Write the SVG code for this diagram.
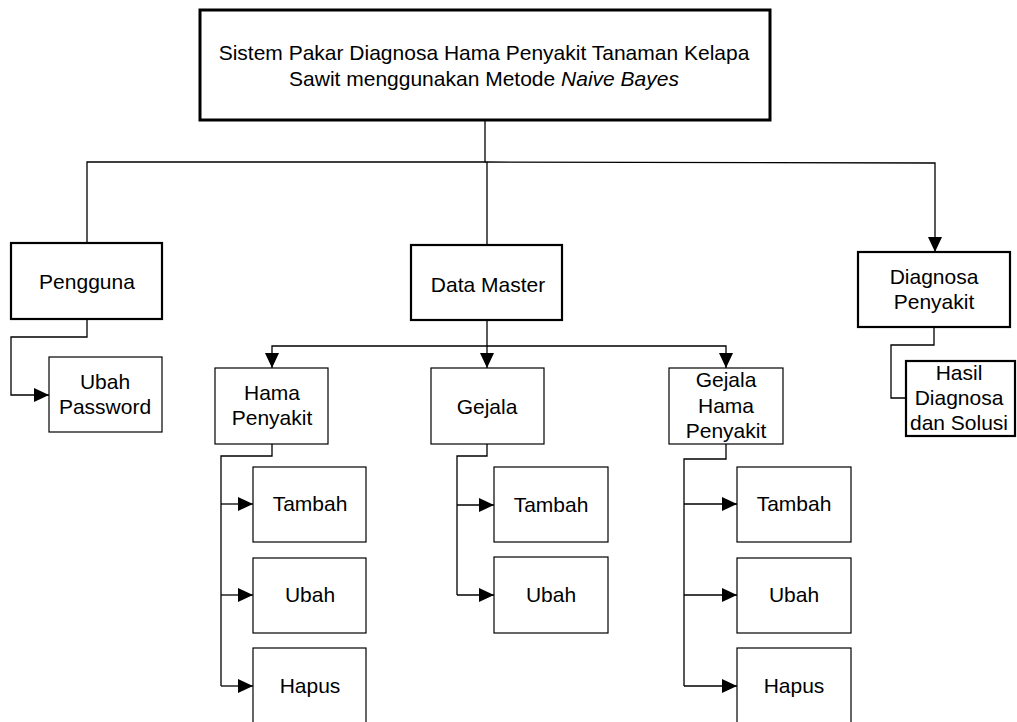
<svg xmlns="http://www.w3.org/2000/svg" width="1017" height="722" viewBox="0 0 1017 722">
  <style>
    .box { fill: #ffffff; stroke: #000000; stroke-width: 1.2; }
    .main { fill: #ffffff; stroke: #000000; stroke-width: 2.2; }
    .top { fill: #ffffff; stroke: #000000; stroke-width: 3; }
    .lbl { font-family: "Liberation Sans", Arial, sans-serif; font-size: 21px; fill: #000000; text-anchor: middle; }
    .wire { fill: none; stroke: #000000; stroke-width: 1.3; }
    .arr { marker-end: url(#head); }
  </style>
  <defs>
    <marker id="head" markerUnits="userSpaceOnUse" markerWidth="16" markerHeight="14" refX="15" refY="7" orient="auto">
      <path d="M0,0 L15,7 L0,14 Z" fill="#000000"/>
    </marker>
  </defs>

  <!-- connectors -->
  <g id="connectors">
    <polyline class="wire" points="485,120 485,162 87,162 87,243"/>
    <polyline class="wire arr" points="485,162 935,163 935,252"/>
    <line class="wire" x1="487" y1="162" x2="487" y2="245"/>
    <polyline class="wire arr" points="87,319 87,337 11,337 11,395 49,395"/>
    <polyline class="wire arr" points="487,320 487,368"/>
    <polyline class="wire arr" points="487,346 272,346 272,368"/>
    <polyline class="wire arr" points="487,346 726,346 726,368"/>
    <polyline class="wire" points="934,327 934,345 891,345 891,398 906,398"/>
    <!-- Hama Penyakit actions -->
    <polyline class="wire" points="272,444 272,456 221,456 221,686"/>
    <line class="wire arr" x1="221" y1="504" x2="253" y2="504"/>
    <line class="wire arr" x1="221" y1="595" x2="253" y2="595"/>
    <line class="wire arr" x1="221" y1="686" x2="253" y2="686"/>
    <!-- Gejala actions -->
    <polyline class="wire" points="487,444 487,456 457,456 457,595"/>
    <line class="wire arr" x1="457" y1="505" x2="494" y2="505"/>
    <line class="wire arr" x1="457" y1="595" x2="494" y2="595"/>
    <!-- Gejala Hama Penyakit actions -->
    <polyline class="wire" points="726,444 726,459 684,459 684,686"/>
    <line class="wire arr" x1="684" y1="504" x2="737" y2="504"/>
    <line class="wire arr" x1="684" y1="595" x2="737" y2="595"/>
    <line class="wire arr" x1="684" y1="686" x2="737" y2="686"/>
  </g>

  <g id="root">
    <rect class="top" x="200" y="10" width="570" height="110"/>
    <text class="lbl" x="484" y="60">Sistem Pakar Diagnosa Hama Penyakit Tanaman Kelapa</text>
    <text class="lbl" x="484" y="86">Sawit menggunakan Metode <tspan font-style="italic">Naive Bayes</tspan></text>
  </g>

  <g id="pengguna">
    <rect class="main" x="11" y="243" width="151" height="76"/>
    <text class="lbl" x="87" y="289">Pengguna</text>
  </g>
  <g id="ubah-password">
    <rect class="box" x="49" y="357" width="113" height="75"/>
    <text class="lbl" x="105" y="389">Ubah</text>
    <text class="lbl" x="105" y="414">Password</text>
  </g>

  <g id="data-master">
    <rect class="main" x="411" y="245" width="151" height="75"/>
    <text class="lbl" x="488" y="292">Data Master</text>
  </g>

  <g id="diagnosa-penyakit">
    <rect class="main" x="858" y="252" width="152" height="75"/>
    <text class="lbl" x="934" y="284">Diagnosa</text>
    <text class="lbl" x="934" y="309">Penyakit</text>
  </g>
  <g id="hasil-diagnosa">
    <rect class="main" x="906" y="361" width="109" height="75"/>
    <text class="lbl" x="959" y="380">Hasil</text>
    <text class="lbl" x="959" y="405">Diagnosa</text>
    <text class="lbl" x="959" y="430">dan Solusi</text>
  </g>

  <g id="hama-penyakit">
    <rect class="box" x="215" y="368" width="113" height="76"/>
    <text class="lbl" x="272" y="400">Hama</text>
    <text class="lbl" x="272" y="425">Penyakit</text>
  </g>
  <g id="gejala">
    <rect class="box" x="431" y="368" width="113" height="76"/>
    <text class="lbl" x="487" y="414">Gejala</text>
  </g>
  <g id="gejala-hama-penyakit">
    <rect class="box" x="669" y="368" width="114" height="76"/>
    <text class="lbl" x="726" y="387">Gejala</text>
    <text class="lbl" x="726" y="413">Hama</text>
    <text class="lbl" x="726" y="438">Penyakit</text>
  </g>

  <g id="hp-tambah">
    <rect class="box" x="253" y="467" width="113" height="75"/>
    <text class="lbl" x="310" y="511">Tambah</text>
  </g>
  <g id="hp-ubah">
    <rect class="box" x="253" y="558" width="113" height="75"/>
    <text class="lbl" x="310" y="602">Ubah</text>
  </g>
  <g id="hp-hapus">
    <rect class="box" x="253" y="648" width="113" height="80"/>
    <text class="lbl" x="310" y="693">Hapus</text>
  </g>

  <g id="g-tambah">
    <rect class="box" x="494" y="467" width="114" height="75"/>
    <text class="lbl" x="551" y="512">Tambah</text>
  </g>
  <g id="g-ubah">
    <rect class="box" x="494" y="557" width="114" height="76"/>
    <text class="lbl" x="551" y="602">Ubah</text>
  </g>

  <g id="ghp-tambah">
    <rect class="box" x="737" y="467" width="114" height="75"/>
    <text class="lbl" x="794" y="511">Tambah</text>
  </g>
  <g id="ghp-ubah">
    <rect class="box" x="737" y="558" width="114" height="75"/>
    <text class="lbl" x="794" y="602">Ubah</text>
  </g>
  <g id="ghp-hapus">
    <rect class="box" x="737" y="648" width="114" height="80"/>
    <text class="lbl" x="794" y="693">Hapus</text>
  </g>
</svg>
